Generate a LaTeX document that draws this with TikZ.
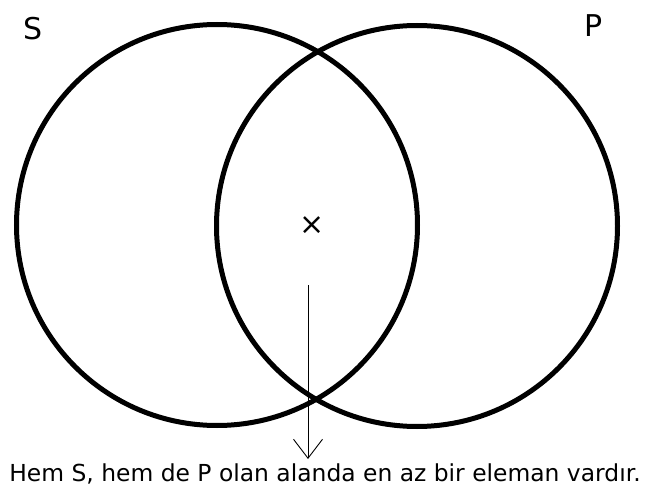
\documentclass[tikz,border=0pt]{standalone}
\usepackage{fontspec}
\setmainfont{DejaVu Sans}
\usetikzlibrary{arrows.meta}
\tikzset{
  venn/.style={circle, draw=black, line width=5pt, minimum size=401pt, inner sep=0pt},
  setlabel/.style={font=\fontsize{30}{30}\selectfont, inner sep=0pt},
  caption/.style={font=\fontsize{23.4}{26}\selectfont, inner sep=0pt, anchor=base},
  pointer/.style={line width=0.9pt, -{Straight Barb[length=19pt,width=29pt,line width=0.9pt]}}
}
\begin{document}
\begin{tikzpicture}[x=1pt,y=-1pt]
\useasboundingbox (0,0) rectangle (649,495);
\fill[white] (0,0) rectangle (649,495);
\node[venn] (S) at (217,225) {};
\node[venn] (P) at (417,226) {};
\node[setlabel] (ls) at (33,29) {S};
\node[setlabel] (lp) at (594,26) {P};
\node[font=\fontsize{30}{30}\selectfont, inner sep=0pt] (x) at (312,226) {×};
\coordinate (a0) at (308,285);
\node[caption] (cap) at (325,481) {Hem S, hem de P olan alanda en az bir eleman vardır.};
\coordinate (a1) at (308,459);
\draw[pointer] (a0) -- (a1);
\end{tikzpicture}
\end{document}
